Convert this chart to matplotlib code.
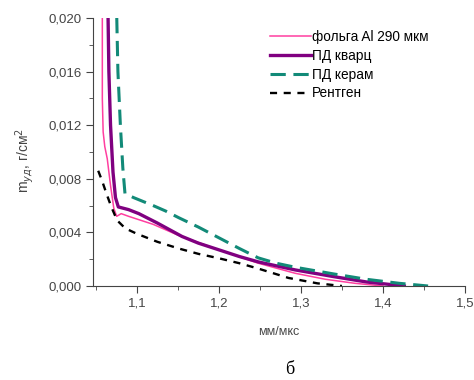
import matplotlib
matplotlib.use("Agg")
import matplotlib.pyplot as plt
from matplotlib.ticker import MultipleLocator, FuncFormatter

plt.rcParams['font.family'] = ['Liberation Sans', 'DejaVu Sans']

# foil Al 290 um
foil_x = [1.058, 1.058, 1.059, 1.061, 1.064, 1.068, 1.072, 1.0755, 1.081, 1.09, 1.105, 1.12,
          1.15, 1.20, 1.248, 1.293, 1.33, 1.366, 1.40]
foil_y = [0.020, 0.014, 0.0115, 0.0104, 0.0095, 0.0075, 0.0058, 0.0052, 0.0054, 0.0052, 0.0049, 0.0046,
          0.0038, 0.0027, 0.0017, 0.00095, 0.0005, 0.0002, 0.0]

# quartz detector
quartz_x = [1.065, 1.066, 1.068, 1.071, 1.074, 1.0775, 1.09, 1.1025, 1.125, 1.14, 1.155, 1.175, 1.20,
            1.225, 1.248, 1.293, 1.34, 1.38, 1.426]
quartz_y = [0.020, 0.016, 0.012, 0.0085, 0.0066, 0.0059, 0.0057, 0.0054, 0.0047, 0.0042, 0.0037, 0.0032, 0.0027,
            0.0022, 0.0018, 0.0012, 0.0007, 0.0003, 0.0]

# ceramic detector
ceram_x = [1.0756, 1.077, 1.080, 1.083, 1.0856, 1.096, 1.12, 1.135, 1.151, 1.175, 1.20, 1.225, 1.248,
           1.27, 1.293, 1.34, 1.38, 1.42, 1.455]
ceram_y = [0.020, 0.016, 0.012, 0.0088, 0.0069, 0.0066, 0.0060, 0.0056, 0.0051, 0.0044, 0.0036, 0.0028, 0.0021,
           0.0017, 0.0014, 0.0009, 0.0005, 0.0002, 0.0]

# x-ray
xray_x = [1.053, 1.058, 1.063, 1.069, 1.076, 1.086, 1.10, 1.125, 1.151, 1.175, 1.20, 1.225, 1.248, 1.285,
          1.32, 1.35]
xray_y = [0.0086, 0.0078, 0.0069, 0.0059, 0.0049, 0.0043, 0.0039, 0.0033, 0.0028, 0.0024, 0.00207, 0.0017,
          0.0013, 0.0006, 0.0002, 0.0]

fig = plt.figure(figsize=(4.74, 3.80), dpi=100)
ax = fig.add_axes([93.3 / 474, 1 - 286 / 380, (465 - 93.3) / 474, 268 / 380])

ax.plot(foil_x, foil_y, color="#ff3fa0", lw=1.1, label="фольга Al 290 мкм")
ax.plot(quartz_x, quartz_y, color="#800080", lw=2.4, label="ПД кварц")
ax.plot(ceram_x, ceram_y, color="#128a78", lw=2.2, dashes=(5, 2.5), label="ПД керам")
ax.plot(xray_x, xray_y, color="black", lw=1.7, dashes=(3, 2.8), label="Рентген")

ax.set_xlim(1.047, 1.5)
ax.set_ylim(0, 0.020)
ax.xaxis.set_major_locator(MultipleLocator(0.1))
ax.xaxis.set_minor_locator(MultipleLocator(0.05))
ax.yaxis.set_major_locator(MultipleLocator(0.004))
ax.yaxis.set_minor_locator(MultipleLocator(0.002))
ax.xaxis.set_major_formatter(FuncFormatter(lambda v, p: f"{v:.1f}".replace(".", ",")))
ax.yaxis.set_major_formatter(FuncFormatter(lambda v, p: f"{v:.3f}".replace(".", ",")))

for s in ["top", "right"]:
    ax.spines[s].set_visible(False)
for s in ["left", "bottom"]:
    ax.spines[s].set_color("#444444")
ax.tick_params(which="both", direction="out", colors="#444444", labelsize=9.5)
ax.tick_params(which="major", length=5)
ax.tick_params(which="minor", length=3)

ax.set_xlabel("мм/мкс", fontsize=9, color="#444444", labelpad=12)
ax.set_ylabel("m$_{уд}$, г/см$^2$", fontsize=10, color="#444444")
ax.yaxis.set_label_coords(-0.155, 0.47)

ax.legend(loc="upper left", bbox_to_anchor=(0.46, 0.975), frameon=False, fontsize=9.8,
          handlelength=3.0, handletextpad=0.1, labelspacing=0.35, borderaxespad=0.0)

fig.text(290 / 474, 1 - 369 / 380, "б", fontsize=13, ha="center", va="center",
         family=["Liberation Serif", "DejaVu Serif"])

fig.savefig("out.png", dpi=100)
